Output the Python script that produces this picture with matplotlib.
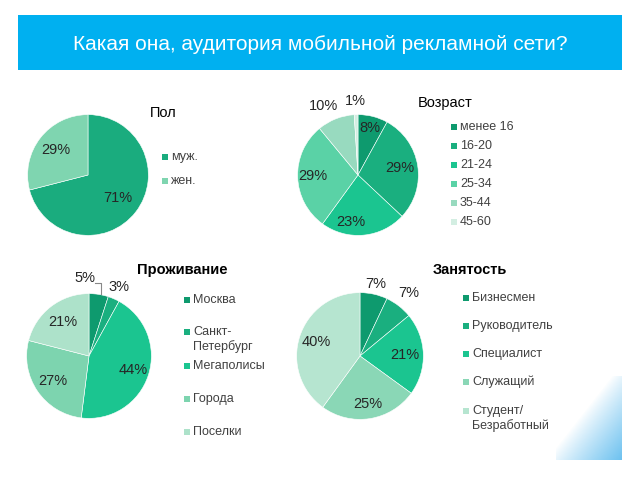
import numpy as np
import matplotlib.pyplot as plt
from matplotlib.patches import Rectangle

plt.rcParams['font.family'] = ['Liberation Sans', 'DejaVu Sans']

W, H = 640, 480

# --- Data ---
title = 'Какая она, аудитория мобильной рекламной сети?'

sex_labels = ['муж.', 'жен.']
sex_values = [71, 29]

age_labels = ['менее 16', '16-20', '21-24', '25-34', '35-44', '45-60']
age_values = [8, 29, 23, 29, 10, 1]

city_labels = ['Москва', 'Санкт-\nПетербург', 'Мегаполисы', 'Города', 'Поселки']
city_values = [5, 3, 44, 27, 21]

job_labels = ['Бизнесмен', 'Руководитель', 'Специалист', 'Служащий', 'Студент/\nБезработный']
job_values = [7, 7, 21, 25, 40]

# --- Colours ---
sex_colors = ['#1AAC7E', '#7FD5B0']
age_colors = ['#0E9A6E', '#1AAF7F', '#1BC590', '#5AD2A6', '#98DABF', '#D3EEE2']
city_colors = ['#0E9A6E', '#1AAF7F', '#1BC590', '#7DD4AF', '#ADE2CA']
job_colors = ['#0E9A6E', '#1AAF7F', '#1BC590', '#8AD7B6', '#B6E5D0']

TXT = '#262626'


def px(x, y):
    return x / W, 1 - y / H


fig = plt.figure(figsize=(6.4, 4.8), dpi=100)
fig.patch.set_facecolor('white')

# header bar
fig.patches.append(Rectangle(px(18, 70), 604 / W, 55 / H, transform=fig.transFigure,
                             facecolor='#00B0F0', edgecolor='none'))
fig.text(*px(320, 44), title, color='white', fontsize=15, ha='center', va='center')

# corner gradient bottom right
gax = fig.add_axes([px(556, 460)[0], px(556, 460)[1], 66 / W, 84 / H])
gx, gy = np.meshgrid(np.linspace(0, 1, 66), np.linspace(0, 1, 84))
g = np.clip((gx + gy - 0.85) / 1.15, 0, 1) ** 0.9
rgba = np.zeros((84, 66, 4))
rgba[..., 0] = 0.33
rgba[..., 1] = 0.72
rgba[..., 2] = 0.93
rgba[..., 3] = g * 0.85
gax.imshow(rgba, origin='upper', aspect='auto', extent=(0, 1, 0, 1))
gax.axis('off')


def draw_pie(cx, cy, r, values, colors, dists, offsets=None):
    ax = fig.add_axes([(cx - r) / W, 1 - (cy + r) / H, 2 * r / W, 2 * r / H])
    wedges, _ = ax.pie(values, colors=colors, startangle=90, counterclock=False,
                       radius=1, wedgeprops=dict(linewidth=0.4, edgecolor='white'))
    ax.set_xlim(-1.01, 1.01)
    ax.set_ylim(-1.01, 1.01)
    ax.set_aspect('auto')
    for i, (w, v) in enumerate(zip(wedges, values)):
        ang = np.deg2rad((w.theta1 + w.theta2) / 2)
        x, y = dists[i] * np.cos(ang), dists[i] * np.sin(ang)
        if offsets is not None:
            x += offsets[i][0]
            y += offsets[i][1]
        ax.text(x, y, f'{v}%', ha='center', va='center', fontsize=10.5,
                color=TXT, clip_on=False)
    return ax


def draw_legend(tx, ty, head, labels, colors, x0, ys, bold=True):
    fig.text(*px(tx, ty), head, fontsize=10.5, color='black',
             fontweight='bold' if bold else 'normal', ha='left', va='center')
    for lab, col, y in zip(labels, colors, ys):
        multi = '\n' in lab
        sy = y + 6 if multi else y
        fig.patches.append(Rectangle(px(x0, sy + 3), 6 / W, 6 / H,
                                     transform=fig.transFigure,
                                     facecolor=col, edgecolor='none'))
        fig.text(*px(x0 + 9, y), lab, fontsize=9, color='#404040',
                 ha='left', va='top' if multi else 'center',
                 linespacing=1.25)


# Пол
draw_pie(88, 175, 61, sex_values, sex_colors, [0.62, 0.68])
draw_legend(150, 113, 'Пол', sex_labels, sex_colors, 162, [157, 181], bold=False)

# Возраст
draw_pie(358, 175, 61, age_values, age_colors, [0.8, 0.7, 0.78, 0.75, 1.28, 1.23],
         offsets=[(0, 0), (0, 0), (-0.2, 0), (0, 0), (-0.1, -0.05), (0, 0)])
draw_legend(418, 103, 'Возраст', age_labels, age_colors, 451,
            [127, 146, 165, 184, 203, 222], bold=False)

# Проживание
ax3 = draw_pie(89, 356, 63, city_values, city_colors, [1.25, 1.2, 0.75, 0.7, 0.68],
               offsets=[(-0.26, 0.02), (0, 0), (0, 0), (0, 0), (0, 0)])
ax3.plot([0.1, 0.19, 0.19], [1.17, 1.17, 1.0], color='#888888', lw=0.8, clip_on=False)
draw_legend(137, 270, 'Проживание', city_labels, city_colors, 184,
            [300, 326, 366, 399, 432])

# Занятость
draw_pie(360, 356, 64, job_values, job_colors, [1.17, 1.25, 0.7, 0.77, 0.72])
draw_legend(433, 270, 'Занятость', job_labels, job_colors, 463,
            [298, 326, 354, 382, 405])

plt.savefig('out.png', dpi=100, facecolor='white')
